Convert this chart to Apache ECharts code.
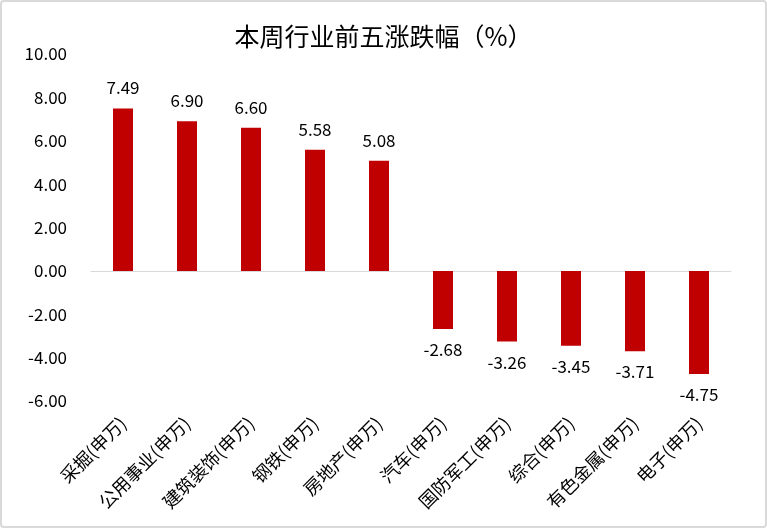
<!DOCTYPE html>
<html>
<head>
<meta charset="utf-8">
<script src="https://cdn.jsdelivr.net/npm/echarts@6/dist/echarts.min.js"></script>
<style>
  html, body { margin: 0; padding: 0; background: #fff; }
  #zhangdiefu { width: 763px; height: 524px; border: 2px solid #d9d9d9; border-radius: 4px; }
</style>
</head>
<body>
<div id="zhangdiefu"></div>
<script>
// 行业名称与本周涨跌幅
var industries = ['采掘(申万)', '公用事业(申万)', '建筑装饰(申万)', '钢铁(申万)', '房地产(申万)',
                  '汽车(申万)', '国防军工(申万)', '综合(申万)', '有色金属(申万)', '电子(申万)'];
var changes = [7.49, 6.90, 6.60, 5.58, 5.08, -2.68, -3.26, -3.45, -3.71, -4.75];
var yTicks = { min: -6, max: 10, step: 2 };

var font = '"Noto Sans CJK JP", "Noto Sans CJK SC", sans-serif';

chart()
function chart(){

    var myChart = echarts.init(document.getElementById('zhangdiefu'));

    // 负值标签放在柱子下方
    var barData = changes.map(function (v) {
        return { value: v, label: { position: v < 0 ? 'bottom' : 'top' } };
    });

    var option = {
        title: {
            text: '本周行业前五涨跌幅（%）',
            left: 'center',
            top: 17,
            textStyle: { fontFamily: font, fontSize: 25, fontWeight: 'normal', color: '#000' }
        },
        grid: { left: 89, right: 34, top: 52, bottom: 125 },
        xAxis: [
            {
                type: 'category',
                data: industries,
                position: 'bottom',
                axisLine: { show: false, onZero: false },
                axisTick: { show: false },
                axisLabel: {
                    rotate: 45,
                    interval: 0,
                    margin: 19,
                    fontFamily: font,
                    fontSize: 18,
                    color: '#000'
                }
            },
            {
                type: 'category',
                data: industries,
                position: 'bottom',
                axisLine: { show: true, onZero: true, lineStyle: { color: '#d9d9d9', width: 1 } },
                axisTick: { show: false },
                axisLabel: { show: false }
            }
        ],
        yAxis: {
            type: 'value',
            min: yTicks.min,
            max: yTicks.max,
            interval: yTicks.step,
            axisLine: { show: false },
            axisTick: { show: false },
            splitLine: { show: false },
            axisLabel: {
                margin: 24,
                fontFamily: font,
                fontSize: 17,
                color: '#000',
                formatter: function (v) { return v.toFixed(2); }
            }
        },
        series: [
            {
                name: '涨跌幅',
                type: 'bar',
                xAxisIndex: 0,
                barWidth: 20,
                itemStyle: { color: '#c00000' },
                label: {
                    show: true,
                    distance: 12,
                    fontFamily: font,
                    fontSize: 17,
                    color: '#000',
                    formatter: function (p) { return p.value.toFixed(2); }
                },
                data: barData
            }
        ]
    };

    myChart.setOption(option);

}
</script>
</body>
</html>
